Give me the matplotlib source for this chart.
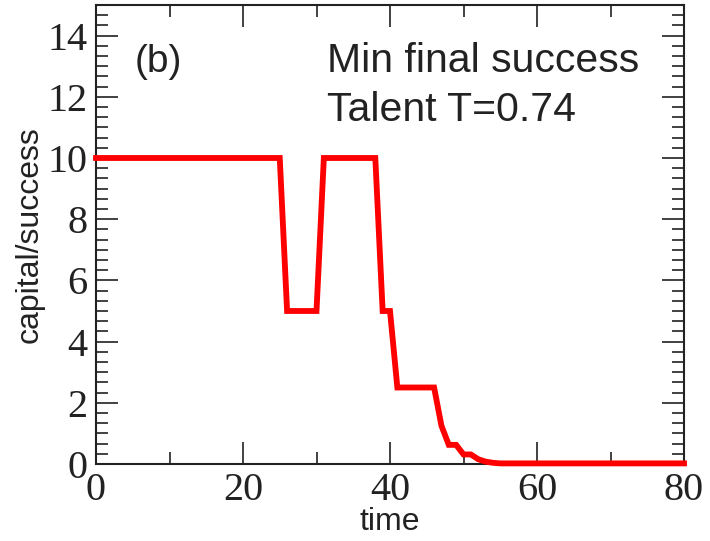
import matplotlib
matplotlib.use("Agg")
import matplotlib.pyplot as plt
from matplotlib.ticker import MultipleLocator, AutoMinorLocator

# Data
time_points = [0, 25, 26, 30, 31, 38, 39, 40, 41, 46, 47, 48, 49, 50, 51, 52, 53, 54, 55, 80]
success = [10, 10, 5, 5, 10, 10, 5, 5, 2.5, 2.5, 1.25, 0.625, 0.625, 0.3125, 0.3125,
           0.156, 0.078, 0.039, 0.02, 0.02]
x_ticks = [0, 20, 40, 60, 80]
y_ticks = [0, 2, 4, 6, 8, 10, 12, 14]

fig = plt.figure(figsize=(7.10, 5.41), dpi=100)
ax = fig.add_axes([96/710, 1-464/541, (684-96)/710, (464-5)/541])

ax.plot(time_points, success, color="#ff0000", lw=4.2, clip_on=False,
        solid_joinstyle="miter", zorder=3)

ax.set_xlim(0, 80)
ax.set_ylim(0, 15)
ax.set_xticks(x_ticks)
ax.set_yticks(y_ticks)
ax.xaxis.set_minor_locator(AutoMinorLocator(2))
ax.yaxis.set_minor_locator(AutoMinorLocator(6))
ax.tick_params(which="both", direction="in", top=True, right=True, color="#333333")
ax.tick_params(which="major", length=16, width=1.3, pad=6)
ax.tick_params(which="minor", length=8.5, width=1.3)
for s in ax.spines.values():
    s.set_linewidth(1.5)
    s.set_color("#222222")

serif = ["Liberation Serif", "DejaVu Serif"]
sans = ["Liberation Sans", "DejaVu Sans"]
for lab in ax.get_xticklabels() + ax.get_yticklabels():
    lab.set_fontfamily(serif)
    lab.set_fontsize(29)
    lab.set_color("#222222")

ax.set_xlabel("time", fontsize=23, family=sans, labelpad=-2, color="#222222")
ax.set_ylabel("capital/success", fontsize=23, family=sans, labelpad=2, color="#222222")

ax.text(5.3, 12.8, "(b)", fontsize=28, family=sans, va="baseline", ha="left", color="#222222")
ax.text(31.4, 12.8, "Min final success", fontsize=29.5, family=sans, va="baseline", ha="left", color="#222222")
ax.text(31.4, 11.2, "Talent T=0.74", fontsize=29.5, family=sans, va="baseline", ha="left", color="#222222")

fig.savefig("out.png", dpi=100)
